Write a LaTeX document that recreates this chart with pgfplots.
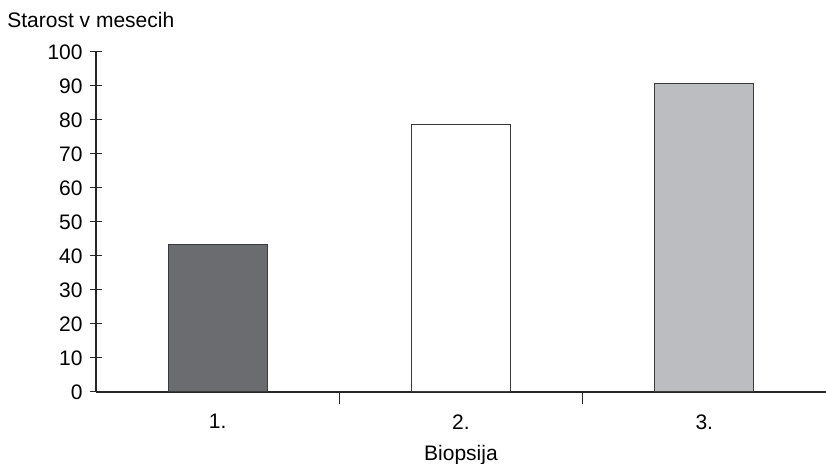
\documentclass[border=0pt]{standalone}
\usepackage{pgfplots}
\pgfplotsset{compat=1.18}
\usepackage{fontspec}
\setmainfont{Liberation Sans}
\definecolor{darkbar}{HTML}{6B6C70}
\definecolor{lightbar}{HTML}{BCBDC1}
\definecolor{edge}{HTML}{3A3A3A}
\begin{document}
\fontsize{10.5}{12}\selectfont
\begin{tikzpicture}
\path[use as bounding box] (-48pt,-36pt) rectangle (365pt,196pt);
\begin{axis}[
  at={(0pt,0pt)}, anchor=south west,
  scale only axis,
  width=365pt, height=170pt,
  xmin=-0.5, xmax=2.5,
  ymin=0, ymax=100,
  axis lines=left,
  axis line style={-, line width=0.6pt, black!85},
  ytick={0,10,...,100},
  xtick={0.5,1.5},
  xticklabels={},
  extra x ticks={0,1,2},
  extra x tick labels={1.,2.,3.},
  extra x tick style={major tick length=0pt, xticklabel style={yshift=-7.5pt}},
  tick align=center,
  major tick length=6pt,
  tick style={line width=0.5pt, black!85},
  yticklabel style={xshift=0pt},
  /pgf/number format/assume math mode=true,
  ticklabel style={font=\fontsize{10.5}{12}\selectfont},
  xlabel={Biopsija},
  xlabel style={at={(axis description cs:0.5,0)}, anchor=center, yshift=-31.5pt},
  every axis y label/.style={at={(axis description cs:0,1)}, anchor=west, xshift=-48pt, yshift=16pt},
  ylabel={Starost v mesecih},
  ybar, bar width=0.407, bar shift=0pt,
  clip=false,
]
\addplot[fill=darkbar, draw=edge, line width=0.5pt] coordinates {(0,43.5)};
\addplot[fill=white, draw=edge, line width=0.5pt] coordinates {(1,78.7)};
\addplot[fill=lightbar, draw=edge, line width=0.5pt] coordinates {(2,90.6)};
\end{axis}
\end{tikzpicture}
\end{document}
